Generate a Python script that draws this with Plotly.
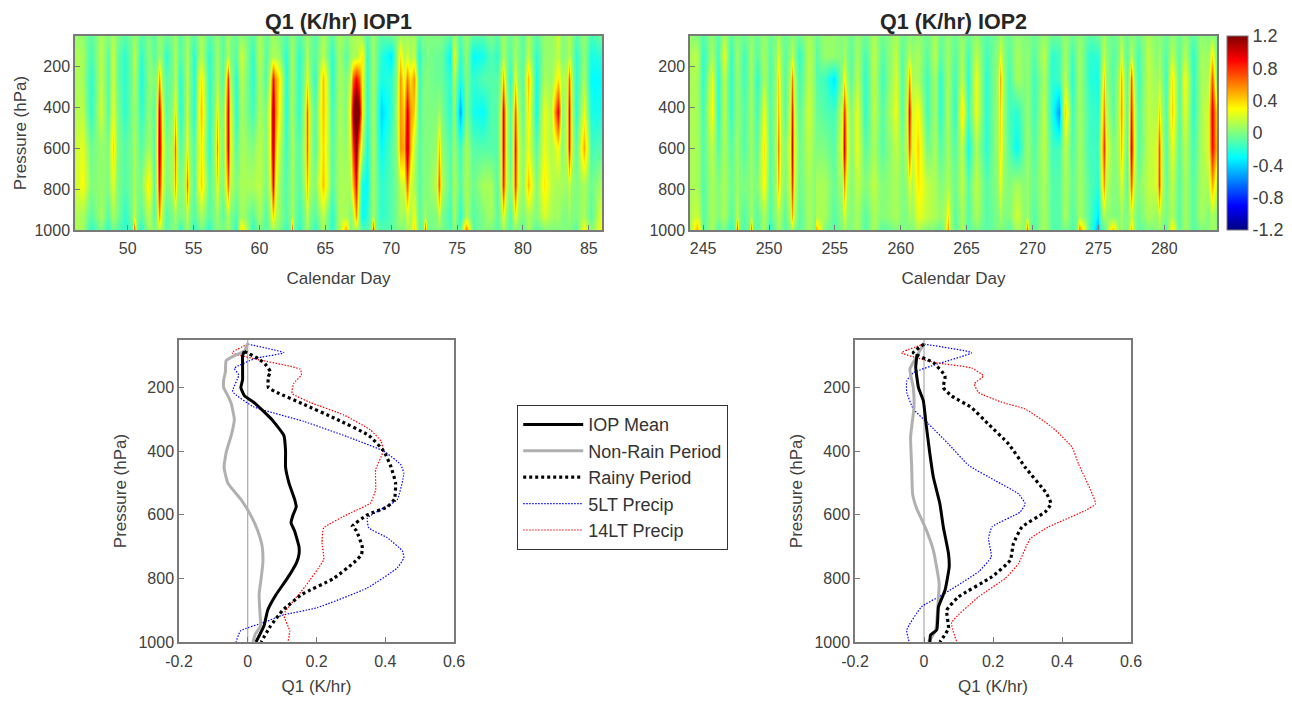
import numpy as np
import plotly.graph_objects as go

W, H = 1292, 702
# ---------- heatmap data ----------
hm_levels = [50, 150, 260, 420, 600, 780, 930, 1000]
iop1_table = [
(46.0,[.05,.1,.1,.1,.15,.15,.1,.1]),(46.5,[.05,.1,.1,.15,.25,.3,.1,.1]),(47.2,[-.1,-.15,-.2,-.2,-.05,0,-.1,-.2]),(48.0,[.1,.15,.15,.2,.05,.05,.1,0]),
(48.5,[0,-.1,-.1,-.1,0,0,-.1,-.2]),(48.85,[.1,.2,.2,.25,.4,.25,.1,0]),(49.2,[0,-.05,-.05,0,0,0,0,-.1]),(49.8,[-.1,-.2,-.2,-.2,-.1,-.1,-.2,-.2]),
(50.3,[0,0,0,0,0,0,0,-.1]),(50.5,[.05,.15,.1,.05,.1,.1,.15,.7]),(50.7,[0,0,0,0,0,0,0,-.1]),(51.0,[-.1,-.2,-.25,-.2,-.1,0,-.1,-.2]),
(51.6,[0,.05,.05,.05,.1,.35,.15,.1]),(52.0,[-.1,-.1,0,-.1,-.1,-.1,-.1,0]),(52.2,[0,0,.05,.25,.3,.25,.1,.05]),(52.4,[.05,.05,.55,1.05,1.2,.95,.55,.15]),
(52.6,[0,0,.05,.25,.3,.25,.1,.05]),(52.9,[-.05,-.2,-.1,-.1,0,0,-.1,-.1]),(53.45,[0,0,0,.05,.1,.1,0,0]),(53.6,[.1,.15,.15,.35,.7,.55,.1,0]),
(53.75,[0,0,0,.05,.1,.1,0,0]),(54.0,[-.1,-.1,-.2,-.2,-.1,0,0,-.2]),(54.35,[0,0,0,0,.05,.1,0,0]),(54.5,[.1,.15,.2,.25,.3,.7,.2,.1]),
(54.65,[0,0,0,0,.05,.1,0,0]),(55.0,[-.1,-.2,-.2,-.2,-.1,-.1,-.1,-.2]),(55.6,[.1,.15,.35,.45,.35,.4,.1,0]),(56.2,[-.1,-.2,-.2,-.2,-.2,-.1,-.1,-.2]),
(56.65,[0,0,0,.05,.1,.05,0,0]),(56.8,[.05,.1,.15,.35,.6,.35,.1,0]),(56.95,[0,0,0,.05,.1,.05,0,0]),(57.2,[-.1,-.1,-.1,0,0,0,-.1,0]),
(57.42,[0,0,.1,.25,.25,.15,0,0]),(57.6,[.1,.1,.8,1.0,1.0,.65,.1,.1]),(57.78,[0,0,.1,.25,.25,.15,0,0]),(58.2,[-.05,-.1,-.2,-.2,-.1,0,-.1,-.2]),
(58.6,[.05,.2,.15,.1,.1,.1,.1,.4]),(59.5,[-.1,-.2,-.2,-.15,0,.1,-.1,-.2]),(60.0,[.1,.15,.1,.1,.15,.15,.1,0]),(60.5,[-.05,-.1,-.1,0,0,0,-.1,-.1]),
(60.82,[0,.05,.2,.3,.3,.2,.1,0]),(61.0,[.1,.1,.9,1.25,1.2,.95,.4,.1]),(61.18,[.05,.1,.55,.6,.45,.3,.15,.05]),(61.45,[0,.05,.35,.3,.15,.05,.05,0]),
(62.0,[-.1,-.2,-.2,-.2,-.15,-.1,-.1,-.15]),(62.35,[0,0,0,0,0,0,0,-.05]),(62.5,[.05,.1,.1,.1,.1,.1,.1,.7]),(62.65,[0,0,0,0,0,0,0,-.05]),
(63.0,[-.1,-.2,-.2,-.2,-.1,-.1,-.15,-.2]),(63.42,[0,0,.05,.15,.15,.1,0,0]),(63.6,[.1,.15,.3,.7,.7,.5,.2,.1]),(63.78,[0,0,.05,.15,.15,.1,0,0]),
(64.2,[-.1,-.1,-.2,-.1,-.1,0,-.1,-.2]),(64.8,[.1,.15,.45,.45,.4,.45,.15,.1]),(65.5,[-.1,-.2,-.2,-.15,-.1,-.1,-.2,-.2]),(66.0,[.1,.1,.1,.1,.1,.1,.1,.1]),
(66.6,[0,-.1,0,0,.05,.1,.1,.5]),(66.9,[.05,.05,.15,.3,.2,.1,0,0]),(67.1,[.1,.1,.7,1.15,.8,.5,.1,.05]),(67.3,[.1,.1,.9,1.5,1.2,.9,.55,.1]),
(67.55,[.1,.2,.7,1.2,.5,.1,0,0]),(67.75,[.05,.35,.3,.3,.1,-.25,-.3,-.1]),(68.2,[-.1,-.2,-.2,-.2,-.25,-.3,-.2,-.1]),(68.45,[0,0,0,0,0,0,0,-.05]),
(68.6,[.1,.1,.1,.1,.1,.1,.1,.9]),(68.75,[0,0,0,0,0,0,0,-.05]),(69.2,[-.1,-.2,-.25,-.4,-.3,-.2,-.2,-.1]),(70.0,[-.05,-.35,-.2,-.2,-.1,-.1,-.1,-.1]),
(70.45,[0,.05,.05,.1,.05,0,0,0]),(70.7,[.1,.35,.55,.55,.55,.15,.1,0]),(70.95,[.05,.1,.25,.4,.5,.2,.05,0]),(71.2,[.1,.2,.6,1.0,1.15,.7,.2,.1]),
(71.45,[.05,.1,.35,.55,.5,.2,.1,.1]),(71.7,[.1,.15,.55,.4,.15,.1,.25,.4]),(72.1,[-.1,-.25,-.2,-.15,-.1,-.1,-.1,-.1]),(72.45,[0,0,0,0,0,0,0,-.05]),
(72.6,[0,-.1,0,0,0,0,.1,.8]),(72.75,[0,0,0,0,0,0,0,-.05]),(73.4,[0,-.05,-.05,0,.05,.15,0,0]),(73.6,[0,-.05,-.05,.1,.45,.7,.2,0]),
(73.8,[0,-.05,-.05,0,.05,.15,0,0]),(74.5,[-.1,-.3,-.2,-.2,-.1,-.1,-.15,-.1]),(74.8,[.05,.25,.1,.05,.05,.1,.1,0]),(75.2,[-.1,-.2,-.25,-.5,-.15,-.1,-.2,-.1]),
(75.7,[.05,.05,0,0,.1,.1,.1,.6]),(76.2,[-.1,-.3,-.2,-.25,-.1,-.05,-.1,-.1]),(77.0,[-.1,-.25,-.1,-.3,-.1,.1,0,0]),(77.6,[0,-.1,-.1,-.1,-.1,.1,.1,0]),
(78.0,[-.1,-.2,-.1,-.1,-.1,-.1,-.1,-.1]),(78.32,[0,0,.05,.2,.2,.2,.05,0]),(78.5,[.1,.1,.5,1.0,1.0,.85,.3,.1]),(78.68,[0,0,.05,.2,.2,.2,.05,0]),
(79.0,[-.05,-.1,-.2,-.1,-.1,0,-.1,-.1]),(79.25,[0,0,0,.15,.2,.2,.05,0]),(79.42,[.05,.1,.3,.7,.9,.8,.3,0]),(79.6,[0,0,0,.15,.2,.2,.05,0]),
(80.0,[-.1,-.1,-.1,-.1,0,0,0,-.1]),(80.4,[.1,.15,.45,.35,.25,.45,.1,.1]),(81.0,[-.1,-.2,-.25,-.25,-.1,0,0,-.1]),(81.6,[.05,.05,.1,.25,.25,.35,.2,0]),
(82.1,[.05,.05,.05,.1,.1,.15,.1,0]),(82.4,[.1,.1,.2,.6,.2,.1,.05,0]),(82.65,[.2,.15,.35,.95,.3,.1,.1,0]),(83.0,[0,0,.1,0,0,.1,0,0]),
(83.32,[.05,.05,.15,.2,.2,.05,0,0]),(83.5,[.15,.15,.7,.95,.9,.2,.1,0]),(83.68,[.05,.05,.15,.2,.2,.05,0,0]),(84.0,[-.1,-.2,-.2,-.2,-.1,0,0,-.1]),
(84.6,[.05,.05,.1,.25,.5,.1,.1,.3]),(85.2,[-.15,-.25,-.3,-.25,-.15,-.05,-.1,0]),(85.9,[-.05,-.2,-.3,-.25,-.1,.1,.25,.3]),
]
iop2_table = [
(244.0,[.05,.1,.1,.1,.1,.1,.1,.1]),(244.5,[0,.15,.1,.1,.1,.1,.2,.5]),(245.0,[-.1,-.2,-.2,-.15,-.1,-.1,-.1,-.1]),(245.7,[.05,.1,.25,.3,.15,.1,.1,.1]),
(246.1,[-.1,-.15,-.2,-.2,-.1,0,0,-.1]),(246.6,[.1,.25,.15,.15,.1,.1,.1,0]),(247.1,[-.1,-.2,-.2,-.2,-.1,-.05,-.1,-.2]),(247.45,[0,0,0,0,0,0,0,-.05]),
(247.6,[0,.1,.05,.05,.1,.1,.2,.8]),(247.75,[0,0,0,0,0,0,0,-.05]),(248.1,[-.05,-.15,-.15,-.1,-.1,0,-.1,-.1]),(248.45,[0,0,0,0,0,0,0,-.05]),
(248.6,[.05,.1,.1,.1,.1,.1,.1,.7]),(248.75,[0,0,0,0,0,0,0,-.05]),(249.1,[-.05,-.1,-.2,-.15,-.1,0,-.1,-.1]),(249.6,[.05,.1,.1,.25,.35,.3,.1,.1]),
(250.1,[-.05,-.1,-.1,-.1,-.1,-.1,-.1,-.2]),(250.5,[0,.05,.05,.1,.1,.1,.05,0]),(250.7,[.1,.2,.4,.45,.6,.45,.1,.1]),(250.9,[0,.05,.05,.1,.1,.1,.05,0]),
(251.2,[-.05,-.1,-.1,-.1,0,0,-.1,-.1]),(251.57,[0,.05,.15,.2,.25,.2,.15,0]),(251.75,[.05,.15,.6,.85,1.0,.8,.5,.1]),(251.93,[0,.05,.15,.2,.25,.2,.15,0]),
(252.3,[-.05,-.2,-.15,-.1,-.05,-.05,-.1,-.1]),(253.0,[.1,.15,.15,.2,.15,.1,.1,.1]),(253.45,[0,0,0,0,0,0,0,-.05]),(253.6,[-.05,-.1,-.1,-.05,0,.1,.1,.5]),
(254.2,[.05,.05,-.15,-.1,0,.1,.1,0]),(254.9,[.05,.05,-.35,-.15,-.1,-.05,-.1,-.1]),(255.52,[0,0,.05,.2,.25,.1,.05,0]),(255.7,[.05,.1,.3,.8,1.0,.55,.2,.1]),
(255.88,[0,0,.05,.2,.25,.1,.05,0]),(256.2,[-.05,-.1,-.1,0,0,0,0,0]),(256.7,[.05,.1,.15,.25,.25,.15,.1,.1]),(257.3,[-.05,-.15,-.2,-.2,-.1,0,-.1,-.1]),
(258.0,[.1,.15,.15,.15,.1,.15,.1,.1]),(258.6,[-.05,-.1,-.15,-.1,-.1,0,0,-.1]),(259.6,[.1,.15,.2,.25,.15,.1,.1,0]),(260.1,[-.05,-.1,-.1,-.1,0,0,0,0]),
(260.47,[0,.05,.1,.2,.15,.05,0,0]),(260.65,[.05,.15,.55,.95,.75,.25,.1,0]),(260.83,[0,.05,.1,.2,.2,.1,.05,0]),(261.3,[.05,.1,.1,.3,.4,.35,.25,.1]),
(262.0,[-.05,-.1,-.15,-.15,-.05,.15,.15,0]),(262.6,[.1,.15,.1,.1,.1,.1,.1,0]),(263.0,[-.05,-.1,-.2,-.2,-.1,0,.05,-.1]),(263.35,[0,0,0,0,0,.05,.1,.1]),
(263.55,[.05,.1,.1,.1,.1,.1,.35,.55]),(263.75,[0,0,0,0,0,.05,.1,.1]),(264.1,[-.05,-.1,-.15,-.2,-.1,-.05,-.1,-.1]),(264.65,[.05,.1,.15,.35,.15,.15,.1,.1]),
(265.1,[-.05,-.15,-.2,-.15,-.25,-.1,-.1,-.1]),(265.7,[.05,.15,.25,.25,.1,.15,.1,0]),(266.5,[-.1,-.15,-.2,-.2,-.2,-.1,-.1,-.1]),(267.35,[0,.05,.1,.1,.1,.05,0,0]),
(267.55,[.1,.25,.5,.4,.35,.25,.1,0]),(267.75,[0,.05,.1,.1,.1,.05,0,0]),(268.2,[-.05,-.1,-.15,-.15,-.1,0,0,-.1]),(268.8,[.05,.1,.1,-.2,-.3,.1,.2,.1]),
(269.45,[0,0,0,0,0,0,0,0]),(269.6,[0,.05,.05,.05,.1,.1,.1,.75]),(269.75,[0,0,0,0,0,0,0,0]),(270.1,[-.05,-.1,-.15,-.15,-.1,-.05,-.1,-.1]),
(270.9,[.05,.15,.1,.15,.15,.1,.1,.1]),(271.5,[-.05,-.2,-.2,-.25,-.15,-.1,-.1,-.1]),(272.0,[-.05,-.15,-.15,-.55,-.15,-.1,-.1,-.1]),(272.5,[.05,.1,.15,.4,.15,.1,.1,0]),
(273.0,[-.05,-.15,-.2,-.15,-.1,-.05,-.1,-.1]),(273.4,[0,0,0,0,0,0,0,-.05]),(273.55,[.05,.1,.1,.1,.1,.1,.1,.6]),(274.3,[-.1,-.2,-.2,-.15,-.15,-.1,-.1,-.1]),
(275.0,[-.05,-.2,-.25,-.2,-.15,-.2,-.35,-.5]),(275.22,[0,0,.05,.15,.25,.15,0,-.1]),(275.4,[.1,.15,.4,.6,.8,.55,.1,-.1]),(275.6,[0,.05,.05,.15,.25,.15,.05,0]),
(276.1,[-.05,-.1,-.1,-.1,0,0,0,.45]),(276.55,[0,0,.1,.15,.1,.05,0,0]),(276.75,[.1,.25,.5,.55,.45,.25,.1,.1]),(276.95,[0,0,.1,.15,.1,.05,0,0]),
(277.15,[-.05,-.1,-.1,-.1,-.1,-.1,0,0]),(277.33,[0,0,.1,.2,.25,.15,.05,.1]),(277.5,[.05,.15,.7,.85,1.0,.7,.2,.45]),(277.67,[0,0,.1,.2,.25,.15,.05,.1]),
(278.0,[-.05,-.15,-.15,-.1,-.1,0,-.05,-.1]),(278.8,[.1,.15,.15,.15,.15,.15,.1,0]),(279.42,[0,0,.05,.1,.2,.2,.05,0]),(279.6,[.05,.1,.15,.4,.75,.8,.2,.1]),
(279.78,[0,0,.05,.1,.2,.2,.05,0]),(280.1,[-.05,-.1,-.15,-.1,-.1,-.05,0,-.1]),(280.6,[.05,.15,.35,.4,.25,.15,.1,.35]),(281.1,[-.05,-.1,-.1,-.1,-.1,-.1,-.1,-.1]),
(281.6,[.05,.15,.3,.25,.15,.1,.1,.1]),(282.2,[-.1,-.2,-.2,-.2,-.15,-.1,-.1,-.1]),(282.8,[.05,.1,.1,.1,.1,.1,.1,0]),(283.35,[0,.05,.1,.2,.2,.1,0,0]),
(283.6,[.05,.35,.7,.95,.9,.5,.1,.1]),(284.0,[-.05,-.1,-.1,.3,.4,.1,0,0]),
]
# ---------- profile data: IOP1 ----------
p1_mean = [86,100,125,150,175,200,225,250,300,350,400,450,500,550,575,600,625,650,700,725,750,800,850,900,950,1000]
q1_mean = [-.01,-.015,-.015,-.015,-.015,-.02,-.01,.022,.07,.105,.11,.11,.12,.136,.141,.132,.126,.136,.149,.149,.142,.115,.083,.058,.047,.024]
p1_dry = [60,85,100,115,150,175,200,225,250,300,350,400,450,500,550,600,650,700,750,800,850,900,950,975,1000]
q1_dry = [0,-.01,-.04,-.063,-.065,-.07,-.07,-.058,-.048,-.039,-.048,-.062,-.069,-.058,-.021,.008,.029,.042,.044,.039,.033,.035,.037,.022,.015]
p1_rain = [86,108,125,150,165,200,215,250,300,350,400,450,500,550,575,600,636,650,700,725,750,800,850,900,950,1000]
q1_rain = [-.01,.03,.05,.066,.06,.06,.085,.158,.26,.352,.396,.417,.43,.427,.406,.348,.304,.316,.333,.331,.309,.25,.158,.102,.066,.039]
p1_5lt = [63,90,108,139,160,212,260,306,354,400,442,470,552,578,610,641,672,714,735,767,830,892,916,937,965,1000]
q1_5lt = [0,.105,.022,-.039,-.026,-.044,.017,.163,.289,.396,.445,.454,.435,.396,.348,.352,.406,.45,.454,.435,.348,.202,.10,.051,-.021,-.034]
p1_14lt = [63,90,111,142,160,186,218,247,286,333,369,400,458,521,563,594,641,688,740,824,913,965,1000]
q1_14lt = [0,-.046,.027,.153,.156,.134,.129,.183,.28,.357,.388,.394,.372,.372,.357,.299,.221,.216,.221,.168,.105,.122,.117]
# ---------- profile data: IOP2 ----------
p2_mean = [94,136,200,241,314,408,481,565,638,722,764,837,889,962,978,1000]
q2_mean = [-.02,-.024,-.016,-.002,.006,.017,.027,.046,.056,.071,.073,.061,.042,.037,.019,.017]
p2_dry = [60,111,142,200,262,356,440,534,581,638,711,816,889,962,1000]
q2_dry = [0,-.026,-.041,-.031,-.029,-.039,-.036,-.033,-.021,.003,.027,.044,.04,.034,.013]
p2_rain = [63,90,121,163,200,226,263,315,377,450,534,565,591,638,691,743,795,858,900,957,1000]
q2_rain = [0,-.031,.027,.061,.056,.08,.138,.187,.245,.293,.356,.368,.351,.284,.259,.25,.197,.1,.066,.071,.046]
p2_5lt = [63,90,126,153,179,215,267,314,377,444,492,534,565,591,638,675,732,779,853,889,962,1000]
q2_5lt = [0,.138,.037,-.031,-.05,-.05,-.031,.013,.071,.129,.206,.274,.293,.279,.197,.187,.195,.158,.051,-.007,-.05,-.043]
p2_14lt = [63,90,121,138,163,188,215,246,267,324,387,440,565,586,638,675,753,800,858,939,1000]
q2_14lt = [0,-.065,.032,.138,.172,.146,.158,.226,.293,.371,.429,.448,.497,.468,.361,.308,.274,.235,.158,.08,.095]

series_names = ["IOP Mean", "Non-Rain Period", "Rainy Period", "5LT Precip", "14LT Precip"]
p_ticks = [200, 400, 600, 800, 1000]
q_ticks = [-.2, 0, .2, .4, .6]
q_text = ["-0.2", "0", "0.2", "0.4", "0.6"]
jet = [[0, "rgb(0,0,128)"], [.125, "rgb(0,0,255)"], [.375, "rgb(0,255,255)"],
       [.625, "rgb(255,255,0)"], [.875, "rgb(255,0,0)"], [1, "rgb(128,0,0)"]]

def px(x0, x1): return [x0 / W, x1 / W]
def py(y0, y1): return [1 - y1 / H, 1 - y0 / H]

fig = go.Figure()
INK = "#404040"; AX = "#7a7a7a"
FS = 16
axis_common = dict(showgrid=False, zeroline=False, showline=True, mirror=True, linecolor=AX, linewidth=1.5,
                   ticks="inside", ticklen=5, tickcolor=AX, tickwidth=1, automargin=False,
                   tickfont=dict(size=FS, color=INK))
styles = [dict(color="black", width=3), dict(color="#b0b0b0", width=3),
          dict(color="black", width=3.2, dash="3px,3px"),
          dict(color="blue", width=1.2, dash="1.5px,1.5px"), dict(color="red", width=1.2, dash="1.5px,1.5px")]

def heat(table, ax, show):
    days = [d for d, _ in table]
    z = np.array([c for _, c in table]).T
    fig.add_trace(go.Heatmap(x=days, y=hm_levels, z=z, zmin=-1.2, zmax=1.2, colorscale=jet, zsmooth="best",
        xaxis="x" + ax, yaxis="y" + ax, showscale=show,
        colorbar=dict(x=1227 / W, xanchor="left", xpad=0, ypad=0, thickness=21, thicknessmode="pixels", len=194 / H, lenmode="fraction",
                      y=1 - 36 / H, yanchor="top", tickvals=[-1.2, -.8, -.4, 0, .4, .8, 1.2],
                      ticktext=["-1.2", "-0.8", "-0.4", "0", "0.4", "0.8", "1.2"], ticks="", outlinecolor=AX, outlinewidth=1,
                      tickfont=dict(size=FS + 2, color=INK))))

heat(iop1_table, "", True)
heat(iop2_table, "2", False)

def profiles(data, ax, show):
    fig.add_trace(go.Scatter(x=[0, 0], y=[50, 1000], mode="lines", line=dict(color="#9a9a9a", width=1),
                             xaxis="x" + ax, yaxis="y" + ax, showlegend=False))
    for i in [3, 4, 1, 0, 2]:
        p, q = data[i]
        fig.add_trace(go.Scatter(x=q, y=p, mode="lines", name=series_names[i], line=dict(shape="spline", smoothing=0.4, **styles[i]),
                                 xaxis="x" + ax, yaxis="y" + ax, showlegend=show, legendrank=i + 1))

profiles([(p1_mean, q1_mean), (p1_dry, q1_dry), (p1_rain, q1_rain), (p1_5lt, q1_5lt), (p1_14lt, q1_14lt)], "3", True)
profiles([(p2_mean, q2_mean), (p2_dry, q2_dry), (p2_rain, q2_rain), (p2_5lt, q2_5lt), (p2_14lt, q2_14lt)], "4", False)

lab_f = dict(size=FS + 1, color=INK)
title_f = dict(size=21.5, color="#262626")
def xa(dom, rng, ticks, title, so, tso, **kw):
    return dict(domain=dom, range=rng, tickvals=ticks, ticklabelstandoff=tso,
                title=dict(text=title, font=lab_f, standoff=so), **axis_common, **kw)
def ya(dom, anchor, title=None, so=8):
    d = dict(domain=dom, range=[1000, 50], tickvals=p_ticks, anchor=anchor, **axis_common)
    if title:
        d["title"] = dict(text=title, font=lab_f, standoff=so)
    return d

fig.update_layout(
    width=W, height=H, autosize=False, margin=dict(l=0, r=0, t=0, b=0),
    paper_bgcolor="white", plot_bgcolor="white", showlegend=True,
    font=dict(family="Liberation Sans, Arial, sans-serif"),
    xaxis=xa(px(75, 602), [46, 86], list(range(50, 90, 5)), "Calendar Day", 16, 3, anchor="y"),
    yaxis=ya(py(36, 230), "x", "Pressure (hPa)", 4),
    xaxis2=xa(px(690, 1217), [244, 284], list(range(245, 285, 5)), "Calendar Day", 16, 3, anchor="y2"),
    yaxis2=ya(py(36, 230), "x2"),
    xaxis3=xa(px(179, 454), [-.2, .6], q_ticks, "Q1 (K/hr)", 11, 4, anchor="y3", ticktext=q_text),
    yaxis3=ya(py(340, 642), "x3", "Pressure (hPa)"),
    xaxis4=xa(px(855, 1131), [-.2, .6], q_ticks, "Q1 (K/hr)", 11, 4, anchor="y4", ticktext=q_text),
    yaxis4=ya(py(340, 642), "x4", "Pressure (hPa)"),
    legend=dict(x=517 / W, y=1 - 405 / H, xanchor="left", yanchor="top", bgcolor="white", bordercolor="#333333", borderwidth=1.2,
                font=dict(size=18, color="#333333"), itemwidth=60, traceorder="normal", itemclick=False),
    annotations=[
        dict(text="<b>Q1 (K/hr) IOP1</b>", x=338 / W, y=1 - 22 / H, xref="paper", yref="paper", xanchor="center", yanchor="middle",
             showarrow=False, font=title_f),
        dict(text="<b>Q1 (K/hr) IOP2</b>", x=953 / W, y=1 - 22 / H, xref="paper", yref="paper", xanchor="center", yanchor="middle",
             showarrow=False, font=title_f),
    ],
)
fig.write_html("out.html", config={"displayModeBar": False},
               post_script="document.body.style.margin='0';document.body.style.overflow='hidden';")
